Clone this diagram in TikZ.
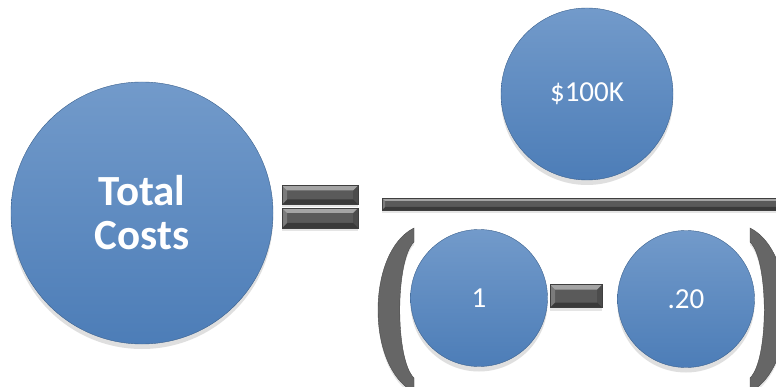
\documentclass[tikz,border=0pt]{standalone}
\usepackage{fontspec}
\setmainfont{Carlito}
\usetikzlibrary{shadows}
\usetikzlibrary{positioning}
\definecolor{ballblue}{HTML}{4F81BD}
\definecolor{bargray}{HTML}{5A5A5A}
\tikzset{
    ball/.style = {circle, inner sep=0pt, draw=ballblue!75!black, thin, text=white,
                   top color=ballblue!80!white, middle color=ballblue, bottom color=ballblue!97!black,
                   drop shadow={opacity=0.25, shadow xshift=0pt, shadow yshift=-5pt}},
    bigball/.style = {ball, minimum size=262pt, align=center, font=\bfseries\fontsize{43}{44}\selectfont},
    midball/.style = {ball, minimum size=172pt, font=\fontsize{29}{32}\selectfont},
    smallball/.style = {ball, minimum size=137pt, font=\fontsize{29}{32}\selectfont},
    bevel/.style = {rectangle, inner sep=0pt, fill=bargray, draw=bargray!70!black,
                    drop shadow={opacity=0.2, shadow xshift=0pt, shadow yshift=-3pt},
                    path picture={
                      \fill[white,opacity=.45] (path picture bounding box.north west) -- (path picture bounding box.north east)
                        -- ([shift={(-#1,-#1)}]path picture bounding box.north east) -- ([shift={(#1,-#1)}]path picture bounding box.north west) -- cycle;
                      \fill[black,opacity=.35] (path picture bounding box.south west) -- (path picture bounding box.south east)
                        -- ([shift={(-#1,#1)}]path picture bounding box.south east) -- ([shift={(#1,#1)}]path picture bounding box.south west) -- cycle;
                      \fill[white,opacity=.2] (path picture bounding box.north west) -- (path picture bounding box.south west)
                        -- ([shift={(#1,#1)}]path picture bounding box.south west) -- ([shift={(#1,-#1)}]path picture bounding box.north west) -- cycle;
                      \fill[black,opacity=.15] (path picture bounding box.north east) -- (path picture bounding box.south east)
                        -- ([shift={(-#1,#1)}]path picture bounding box.south east) -- ([shift={(-#1,-#1)}]path picture bounding box.north east) -- cycle;
                    }},
    bevel/.default = 5pt,
    paren/.style = {fill=gray!80!black, draw=bargray!80!black, thin,
                    drop shadow={opacity=0.2, shadow xshift=0pt, shadow yshift=-3pt}},
}

\begin{document}
\begin{tikzpicture}[x=1pt,y=-1pt]
\clip (0,0) rectangle (776,387);
\fill[white] (0,0) rectangle (776,387);
%
\node[bigball] at (142,213) (total) {Total\\Costs};
\node[bevel, minimum width=76pt, minimum height=19pt] at (320,195) (eqtop) {};
\node[bevel, minimum width=76pt, minimum height=20pt] at (320,218) (eqbot) {};
%
\node[midball] at (587,94) (top) {\$100K};
\node[bevel=3pt, minimum width=408pt, minimum height=12pt] at (586,204) (bar) {};
%
\node[smallball] at (479,298) (one) {1};
\node[bevel, minimum width=52pt, minimum height=23pt] at (576,296) (minus) {};
\node[smallball] at (686,299) (rate) {.20};
%
% brackets round the denominator
\path[paren] (414,228) .. controls (366,252) and (366,368) .. (414,392)
    -- (414,378) .. controls (395,360) and (395,260) .. (414,242) -- cycle;
\path[paren] (750,228) .. controls (798,252) and (798,368) .. (750,392)
    -- (750,378) .. controls (769,360) and (769,260) .. (750,242) -- cycle;

\end{tikzpicture}
\end{document}
